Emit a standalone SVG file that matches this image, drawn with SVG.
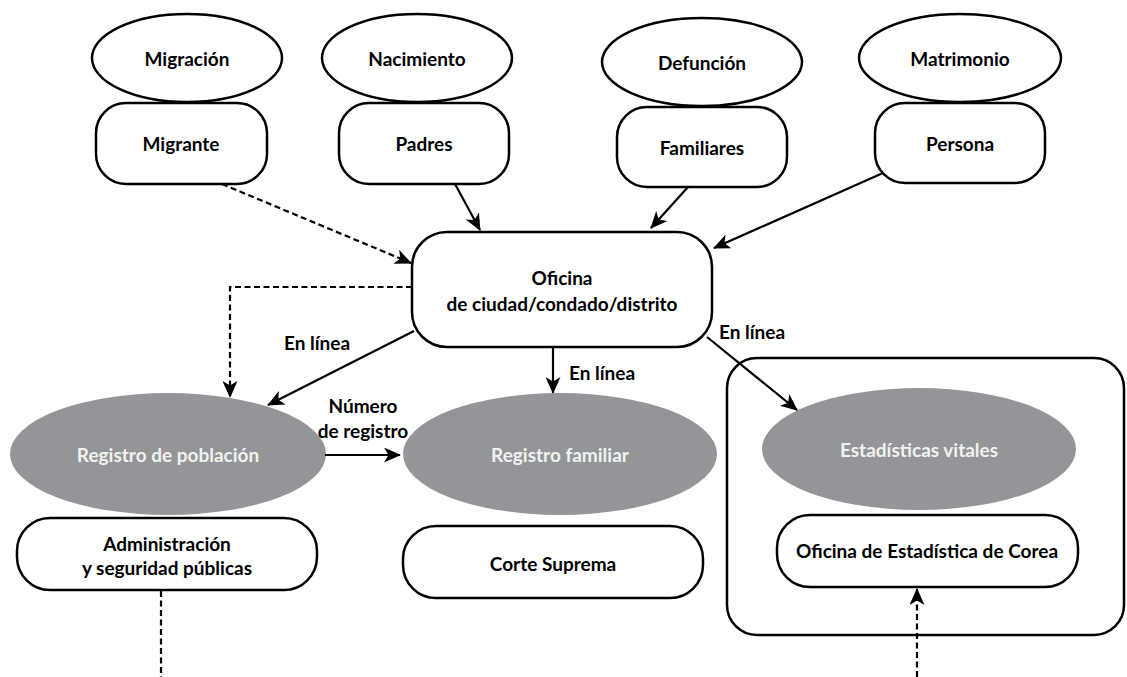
<svg xmlns="http://www.w3.org/2000/svg" width="1127" height="677" viewBox="0 0 1127 677">
<style>
.sh{fill:#fff;stroke:#000;stroke-width:2.5}
.gr{fill:#939598;stroke:none}
.t{font-family:Lato,"Open Sans",sans-serif;font-weight:700;font-size:19px;fill:#000;text-anchor:middle;dominant-baseline:central}
.tw{fill:#f2f2f2}
.c{fill:none;stroke:#000;stroke-width:2.2}
.d{stroke-dasharray:6 3.5}
</style>
<defs>
<marker id="ah" viewBox="0 0 17 15" refX="16" refY="7.5" markerWidth="17" markerHeight="15" markerUnits="userSpaceOnUse" orient="auto">
<path d="M0,0 L17,7.5 L0,15 L4.5,7.5 z" fill="#000"/>
</marker>
</defs>
<rect class="sh" x="727" y="358" width="397" height="277" rx="30"/>
<g id="n-migracion"><ellipse class="sh" cx="187" cy="58" rx="95" ry="44"/><text class="t" x="187" y="58">Migración</text></g>
<g id="n-migrante"><rect class="sh" x="96" y="103" width="171" height="81" rx="30"/><text class="t" x="181" y="143">Migrante</text></g>
<g id="n-nacimiento"><ellipse class="sh" cx="417" cy="58" rx="95" ry="44"/><text class="t" x="417" y="58">Nacimiento</text></g>
<g id="n-padres"><rect class="sh" x="339" y="103" width="170" height="81" rx="30"/><text class="t" x="424" y="143">Padres</text></g>
<g id="n-defuncion"><ellipse class="sh" cx="702" cy="62" rx="100" ry="44"/><text class="t" x="702" y="62">Defunción</text></g>
<g id="n-familiares"><rect class="sh" x="617" y="107" width="170" height="80" rx="30"/><text class="t" x="702" y="147">Familiares</text></g>
<g id="n-matrimonio"><ellipse class="sh" cx="960" cy="58" rx="101" ry="44"/><text class="t" x="960" y="58">Matrimonio</text></g>
<g id="n-persona"><rect class="sh" x="875" y="103" width="170" height="80" rx="30"/><text class="t" x="960" y="143">Persona</text></g>
<g id="n-oficina"><rect class="sh" x="412" y="232" width="300" height="115" rx="35"/><text class="t" x="562" y="277">Oficina</text><text class="t" x="562" y="303">de ciudad/condado/distrito</text></g>
<g id="n-regpob"><ellipse class="gr" cx="168" cy="454" rx="158" ry="61"/><text class="t tw" x="168" y="454">Registro de población</text></g>
<g id="n-regfam"><ellipse class="gr" cx="560" cy="454" rx="157" ry="61"/><text class="t tw" x="560" y="454">Registro familiar</text></g>
<g id="n-estad"><ellipse class="gr" cx="919" cy="449" rx="157" ry="61"/><text class="t tw" x="919" y="449">Estadísticas vitales</text></g>
<g id="n-admin"><rect class="sh" x="17" y="518" width="300" height="72" rx="33"/><text class="t" x="167" y="543">Administración</text><text class="t" x="167" y="567">y seguridad públicas</text></g>
<g id="n-corte"><rect class="sh" x="403" y="526" width="300" height="72" rx="33"/><text class="t" x="553" y="563">Corte Suprema</text></g>
<g id="n-kostat"><rect class="sh" x="777" y="515" width="301" height="72" rx="33"/><text class="t" x="927" y="550">Oficina de Estadística de Corea</text></g>
<g id="connectors">
<line class="c d" x1="222" y1="184" x2="411" y2="263" marker-end="url(#ah)"/>
<line class="c" x1="455" y1="184" x2="480" y2="230" marker-end="url(#ah)"/>
<line class="c" x1="688" y1="187" x2="651" y2="228" marker-end="url(#ah)"/>
<line class="c" x1="883" y1="173" x2="714" y2="248" marker-end="url(#ah)"/>
<polyline class="c d" points="412,287 230,287 230,397" marker-end="url(#ah)"/>
<line class="c" x1="414" y1="331" x2="268" y2="405" marker-end="url(#ah)"/>
<line class="c" x1="553" y1="347" x2="553" y2="393" marker-end="url(#ah)"/>
<line class="c" x1="707" y1="337" x2="797" y2="410" marker-end="url(#ah)"/>
<line class="c" x1="325" y1="455" x2="400" y2="455" marker-end="url(#ah)"/>
<line class="c d" x1="161" y1="591" x2="161" y2="677"/>
<line class="c d" x1="917" y1="677" x2="917" y2="589" marker-end="url(#ah)"/>
<text class="t" x="317" y="342">En línea</text>
<text class="t" x="602" y="372">En línea</text>
<text class="t" x="752" y="331">En línea</text>
<text class="t" x="363" y="405">Número</text>
<text class="t" x="363" y="430">de registro</text>
</g>
</svg>
